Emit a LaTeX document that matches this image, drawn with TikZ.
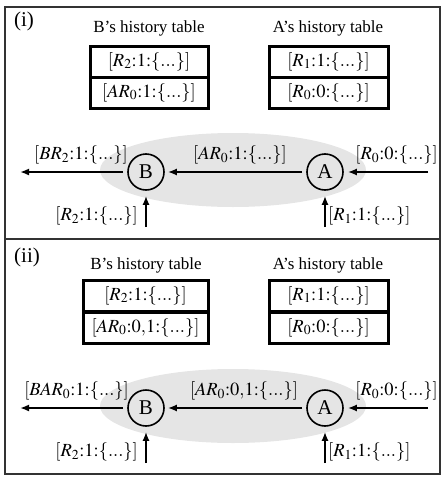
\documentclass[tikz,border=0pt]{standalone}
\usepackage{mathptmx}
\usepackage{fontspec}
\setmainfont{Liberation Serif}
\usetikzlibrary{arrows.meta}
\tikzset{
  frame/.style={draw=black!80, line width=1.6pt},
  tabcell/.style={draw, line width=3pt, minimum height=31pt, inner sep=0pt,
                  font=\fontsize{18.5}{21}\selectfont},
  agent/.style={draw, circle, line width=1.6pt, minimum size=36pt, inner sep=0pt,
                font=\fontsize{21}{24}\selectfont},
  msg/.style={line width=1.8pt, -{Latex[length=9pt,width=7pt]}},
  lbl/.style={inner sep=0pt, font=\fontsize{18.5}{21}\selectfont},
  heading/.style={inner sep=0pt},
  tag/.style={inner sep=0pt, font=\fontsize{21}{24}\selectfont},
  cloud/.style={fill=black!10}
}
\newcommand{\hist}[2]{$[#1{:}#2{:}\{...\}]$}
\begin{document}
\fontsize{17}{20}\selectfont
\begin{tikzpicture}[x=1pt,y=-1pt]
\useasboundingbox (0,0) rectangle (442,477);
% outer frame and separator between the two panels
\draw[frame] (5,7) rectangle (440,474);
\draw[frame] (5,239) -- (440,239);

% ---------- panel (i) ----------
\node[tag] (tagI) at (24,21) {(i)};
\node[heading] (titleBI) at (149,28) {B's history table};
\node[heading] (titleAI) at (328,28) {A's history table};
\node[tabcell, minimum width=118pt] (tB1I) at (149,61.5) {\hist{R_2}{1}};
\node[tabcell, minimum width=118pt] (tB2I) at (149,92.5) {\hist{AR_0}{1}};
\node[tabcell, minimum width=119pt] (tA1I) at (328.5,61.5) {\hist{R_1}{1}};
\node[tabcell, minimum width=119pt] (tA2I) at (328.5,92.5) {\hist{R_0}{0}};
\fill[cloud] (233,170) ellipse [x radius=133pt, y radius=37pt];
\node[agent] (BI) at (146,172) {B};
\node[agent] (AI) at (325,172) {A};
\coordinate (outI) at (20,172);
\coordinate (inAI) at (428,172);
\coordinate (upBI) at (146,227);
\coordinate (upAI) at (325,227);
\draw[msg, shorten <=4pt, shorten >=3pt] (AI) -- (BI);
\draw[msg, shorten <=4pt] (BI) -- (outI);
\draw[msg, shorten >=4pt] (inAI) -- (AI);
\draw[msg, shorten >=5pt] (upBI) -- (BI);
\draw[msg, shorten >=5pt] (upAI) -- (AI);
\node[lbl, anchor=east] (mOutI) at (128,155) {$[BR_2{:}1{:}\{...\}]$};
\node[lbl] (mABI) at (240,155) {\hist{AR_0}{1}};
\node[lbl, anchor=east] (mInI) at (438,155) {\hist{R_0}{0}};
\node[lbl, anchor=east] (mUpBI) at (138,216) {\hist{R_2}{1}};
\node[lbl, anchor=west] (mUpAI) at (328,216) {\hist{R_1}{1}};

% ---------- panel (ii) ----------
\begin{scope}[yshift=-236pt]
\node[tag] (tagII) at (27,21) {(ii)};
\node[heading] (titleBII) at (146,29) {B's history table};
\node[heading] (titleAII) at (328,29) {A's history table};
\node[tabcell, minimum width=125pt] (tB1II) at (145.5,59.5) {\hist{R_2}{1}};
\node[tabcell, minimum width=125pt] (tB2II) at (145.5,91.5) {$[AR_0{:}0{,}1{:}\{...\}]$};
\node[tabcell, minimum width=119pt] (tA1II) at (328.5,59.5) {\hist{R_1}{1}};
\node[tabcell, minimum width=119pt] (tA2II) at (328.5,91.5) {\hist{R_0}{0}};
\fill[cloud] (233,170) ellipse [x radius=133pt, y radius=37pt];
\node[agent] (BII) at (146,172) {B};
\node[agent] (AII) at (325,172) {A};
\coordinate (outII) at (20,172);
\coordinate (inAII) at (428,172);
\coordinate (upBII) at (146,227);
\coordinate (upAII) at (325,227);
\draw[msg, shorten <=4pt, shorten >=3pt] (AII) -- (BII);
\draw[msg, shorten <=4pt] (BII) -- (outII);
\draw[msg, shorten >=4pt] (inAII) -- (AII);
\draw[msg, shorten >=5pt] (upBII) -- (BII);
\draw[msg, shorten >=5pt] (upAII) -- (AII);
\node[lbl, anchor=east] (mOutII) at (129,155) {$[BAR_0{:}1{:}\{...\}]$};
\node[lbl] (mABII) at (244,155) {$[AR_0{:}0{,}1{:}\{...\}]$};
\node[lbl, anchor=east] (mInII) at (438,155) {\hist{R_0}{0}};
\node[lbl, anchor=east] (mUpBII) at (138,216) {\hist{R_2}{1}};
\node[lbl, anchor=west] (mUpAII) at (328,216) {\hist{R_1}{1}};
\end{scope}
\end{tikzpicture}
\end{document}
